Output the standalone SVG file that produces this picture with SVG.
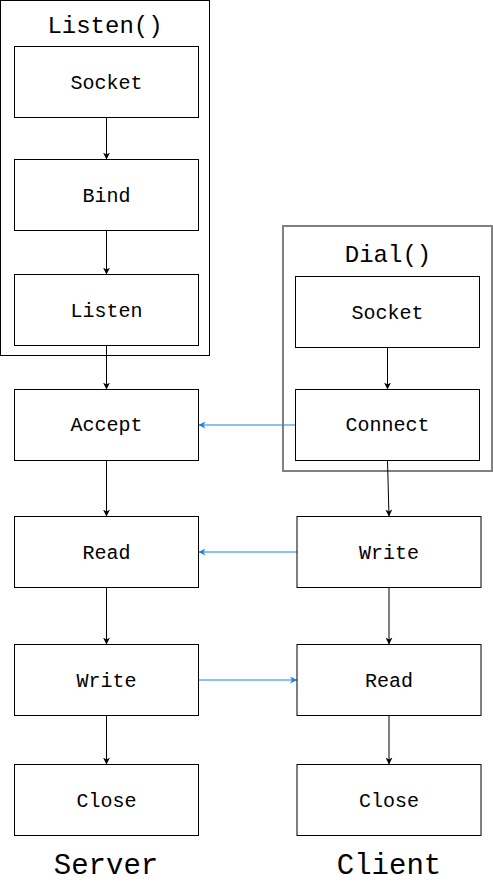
<svg xmlns="http://www.w3.org/2000/svg" width="493" height="883" viewBox="0 0 493 883">
  <style>
    .box { fill: #ffffff; stroke: #000000; stroke-width: 1; }
    .lbl { font-family: "Liberation Mono", "Courier New", monospace; font-size: 20px; fill: #000000; text-anchor: middle; }
    .ttl { font-family: "Liberation Mono", "Courier New", monospace; font-size: 24px; fill: #000000; text-anchor: middle; }
    .big { font-family: "Liberation Mono", "Courier New", monospace; font-size: 29px; fill: #000000; text-anchor: middle; }
    .edge { fill: none; stroke: #000000; stroke-width: 1; }
    .msg { fill: none; stroke: #1a80e6; stroke-width: 1; }
  </style>
  <defs>
    <marker id="arr" viewBox="0 0 10 10" refX="10" refY="5" markerWidth="7" markerHeight="7" markerUnits="userSpaceOnUse" orient="auto">
      <path d="M0,0 L10,5 L0,10 L3,5 z" fill="#000000"/>
    </marker>
    <marker id="arrb" viewBox="0 0 10 10" refX="10" refY="5" markerWidth="7" markerHeight="7" markerUnits="userSpaceOnUse" orient="auto">
      <path d="M0,0 L10,5 L0,10 L3,5 z" fill="#1a80e6"/>
    </marker>
  </defs>
  <rect width="493" height="883" fill="#ffffff"/>

  <g id="listen-group">
    <rect x="0.5" y="0.5" width="209" height="355" fill="none" stroke="#000000" stroke-width="1"/>
    <text class="ttl" x="105" y="33">Listen()</text>
  </g>
  <g id="dial-group">
    <rect x="283" y="226" width="209" height="245" fill="none" stroke="#808080" stroke-width="2"/>
    <text class="ttl" x="388" y="262">Dial()</text>
  </g>

  <g id="connectors">
    <line class="edge" x1="106.5" y1="117.5" x2="106.5" y2="159.5" marker-end="url(#arr)"/>
    <line class="edge" x1="106.5" y1="230.5" x2="106.5" y2="274.5" marker-end="url(#arr)"/>
    <line class="edge" x1="106.5" y1="345.5" x2="106.5" y2="389.5" marker-end="url(#arr)"/>
    <line class="edge" x1="106.5" y1="460.5" x2="106.5" y2="516.5" marker-end="url(#arr)"/>
    <line class="edge" x1="106.5" y1="587.5" x2="106.5" y2="644.5" marker-end="url(#arr)"/>
    <line class="edge" x1="106.5" y1="715.5" x2="106.5" y2="764.5" marker-end="url(#arr)"/>
    <line class="edge" x1="387.5" y1="347.5" x2="387.5" y2="389.5" marker-end="url(#arr)"/>
    <line class="edge" x1="387.5" y1="460.5" x2="389" y2="516.5" marker-end="url(#arr)"/>
    <line class="edge" x1="389" y1="587.5" x2="389" y2="644.5" marker-end="url(#arr)"/>
    <line class="edge" x1="389" y1="715.5" x2="389" y2="764.5" marker-end="url(#arr)"/>
    <line class="msg" x1="295.5" y1="425" x2="198.5" y2="425" marker-end="url(#arrb)"/>
    <line class="msg" x1="297" y1="552" x2="198.5" y2="552" marker-end="url(#arrb)"/>
    <line class="msg" x1="198.5" y1="680" x2="297" y2="680" marker-end="url(#arrb)"/>
  </g>

  <g id="s-socket"><rect class="box" x="14.5" y="46.5" width="184" height="71"/><text class="lbl" x="106.5" y="88.5">Socket</text></g>
  <g id="s-bind"><rect class="box" x="14.5" y="159.5" width="184" height="71"/><text class="lbl" x="106.5" y="201.5">Bind</text></g>
  <g id="s-listen"><rect class="box" x="14.5" y="274.5" width="184" height="71"/><text class="lbl" x="106.5" y="316.5">Listen</text></g>
  <g id="s-accept"><rect class="box" x="14.5" y="389.5" width="184" height="71"/><text class="lbl" x="106.5" y="431">Accept</text></g>
  <g id="s-read"><rect class="box" x="14.5" y="516.5" width="184" height="71"/><text class="lbl" x="106.5" y="558.5">Read</text></g>
  <g id="s-write"><rect class="box" x="14.5" y="644.5" width="184" height="71"/><text class="lbl" x="106.5" y="686.5">Write</text></g>
  <g id="s-close"><rect class="box" x="14.5" y="764.5" width="184" height="71"/><text class="lbl" x="106.5" y="806.5">Close</text></g>

  <g id="c-socket"><rect class="box" x="295.5" y="276.5" width="184" height="71"/><text class="lbl" x="387.5" y="318.5">Socket</text></g>
  <g id="c-connect"><rect class="box" x="295.5" y="389.5" width="184" height="71"/><text class="lbl" x="387.5" y="431">Connect</text></g>
  <g id="c-write"><rect class="box" x="297" y="516.5" width="184" height="71"/><text class="lbl" x="389" y="558.5">Write</text></g>
  <g id="c-read"><rect class="box" x="297" y="644.5" width="184" height="71"/><text class="lbl" x="389" y="686.5">Read</text></g>
  <g id="c-close"><rect class="box" x="297" y="764.5" width="184" height="71"/><text class="lbl" x="389" y="806.5">Close</text></g>

  <g id="label-server"><text class="big" x="106" y="874">Server</text></g>
  <g id="label-client"><text class="big" x="389" y="874">Client</text></g>
</svg>
